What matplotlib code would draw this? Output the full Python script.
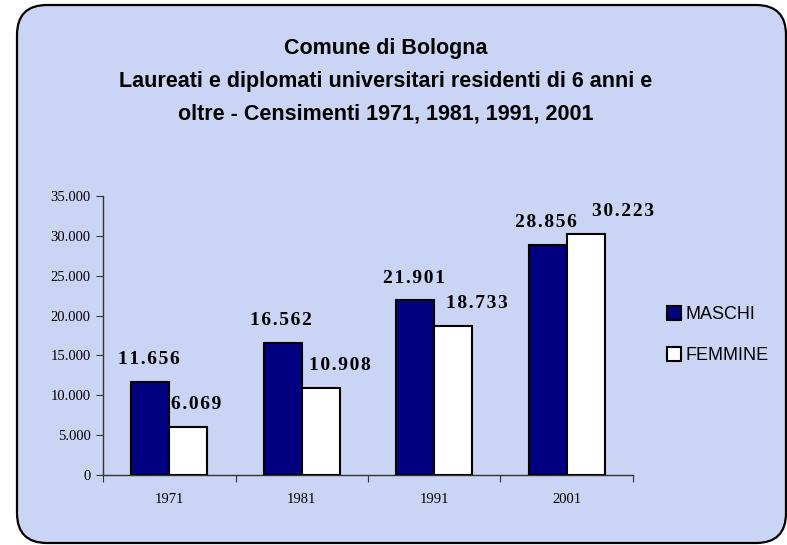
import matplotlib
matplotlib.use('Agg')
import matplotlib.pyplot as plt
from matplotlib.patches import FancyBboxPatch
import numpy as np

years = ['1971', '1981', '1991', '2001']
maschi = [11656, 16562, 21901, 28856]
femmine = [6069, 10908, 18733, 30223]
yticks = [0, 5000, 10000, 15000, 20000, 25000, 30000, 35000]

title = ('Comune di Bologna\n'
         'Laureati e diplomati universitari residenti di 6 anni e\n'
         'oltre - Censimenti 1971, 1981, 1991, 2001')

bg = '#cad4f4'
navy = '#000080'


def fmt(v):
    # italian thousands separator, spaced out like the original labels
    s = '{:,}'.format(v).replace(',', '.')
    return '\u200a'.join(s)


fig = plt.figure(figsize=(7.87, 5.45), dpi=100)
fig.patch.set_facecolor('white')

# rounded frame with the background
frame = FancyBboxPatch((0.37, 0.22), 7.29, 4.98,
                       boxstyle='round,pad=0.2,rounding_size=0.3',
                       transform=fig.dpi_scale_trans,
                       facecolor=bg, edgecolor='black', linewidth=1.6,
                       zorder=-10)
fig.add_artist(frame)

ax = fig.add_axes([0.1309, 0.1284, 0.6734, 0.512])
ax.set_facecolor('none')

x = np.arange(len(years))
w = 0.287
ax.bar(x - w / 2, maschi, w, color=navy, edgecolor='black', linewidth=1.5,
       label='MASCHI', zorder=3)
ax.bar(x + w / 2, femmine, w, color='white', edgecolor='black', linewidth=1.5,
       label='FEMMINE', zorder=3)

lab_font = dict(family=['Liberation Serif', 'DejaVu Serif'], fontsize=14,
                fontweight='bold')
fem_dx = [6, 14, 17, 27]
for i in range(len(years)):
    ax.annotate(fmt(maschi[i]), (x[i] - w / 2, maschi[i]), xytext=(-1, 16),
                textcoords='offset points', ha='center', va='center',
                **lab_font)
    ax.annotate(fmt(femmine[i]), (x[i] + w / 2, femmine[i]),
                xytext=(fem_dx[i], 16), textcoords='offset points',
                ha='center', va='center', **lab_font)

ax.set_xlim(-0.5, len(years) - 0.5)
ax.set_ylim(0, 35000)
ax.set_yticks(yticks)
ax.set_yticklabels(['{:,}'.format(v).replace(',', '.') for v in yticks],
                   family='Liberation Serif', fontsize=10.5)
ax.set_xticks(np.arange(len(years) + 1) - 0.5)
ax.set_xticklabels([])
ax.set_xticks(x, minor=True)
ax.set_xticklabels(years, minor=True, family='Liberation Serif', fontsize=10.5)
ax.tick_params(axis='x', which='major', direction='out', length=5,
               color='#333333')
ax.tick_params(axis='x', which='minor', length=0, pad=13)
ax.tick_params(axis='y', direction='out', length=5, color='#333333', pad=4)

for s in ['top', 'right']:
    ax.spines[s].set_visible(False)
for s in ['left', 'bottom']:
    ax.spines[s].set_color('#333333')
    ax.spines[s].set_linewidth(1)

leg = fig.legend(loc='center left', bbox_to_anchor=(0.8475, 0.385),
                 frameon=False, borderpad=0, borderaxespad=0,
                 handlelength=0.8, handleheight=0.8,
                 handletextpad=0.25, labelspacing=1.3,
                 prop={'family': 'Liberation Sans', 'size': 13})

fig.text(0.49, 0.851, title, ha='center', va='center',
         family='Liberation Sans', fontweight='bold', fontsize=15.5,
         linespacing=1.76)

fig.savefig('out.png', dpi=100, facecolor=fig.get_facecolor())
